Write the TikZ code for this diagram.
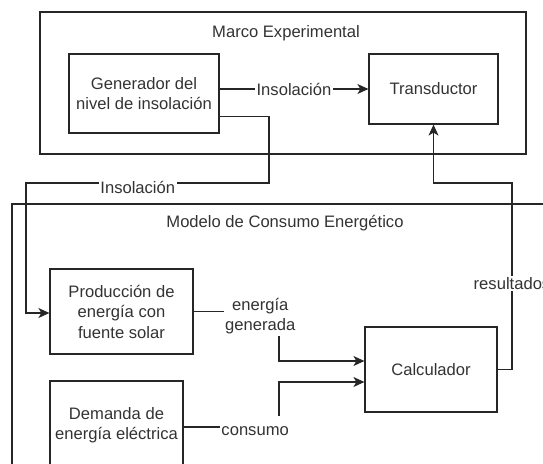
\documentclass[tikz,border=0pt]{standalone}
\usepackage{fontspec}
\setmainfont{Liberation Sans}
\usetikzlibrary{arrows.meta}

\begin{document}
\begin{tikzpicture}[x=1pt, y=-1pt,
  every node/.style={font=\fontsize{16.6}{20.5}\selectfont, text=black!80},
  block/.style={draw=black!85, line width=1.2pt, align=center, inner sep=0pt},
  lbl/.style={fill=white, inner sep=1.5pt, align=center},
  conn/.style={draw=black!85, line width=1.2pt, -{Stealth[length=11pt, width=10pt, inset=3pt]}}]
  \useasboundingbox (0,0) rectangle (543,463);
  \clip (0,0) rectangle (543,463);
  % experimental frame
  \node[block, minimum width=486pt, minimum height=142pt] (marco) at (283,83) {};
  \node (marcotit) at (286,33) {Marco Experimental};
  \node[block, minimum width=150pt, minimum height=79pt] (gen) at (144,93.5)
    {Generador del\\nivel de insolación};
  \node[block, minimum width=129pt, minimum height=70pt] (trans) at (433.5,89) {Transductor};
  % energy consumption model, cut by the page
  \node[block, minimum width=558pt, minimum height=286pt] (modelo) at (291,347) {};
  \node (modelotit) at (285,223) {Modelo de Consumo Energético};
  \node[block, minimum width=143pt, minimum height=85pt] (prod) at (121.5,311.5)
    {Producción de\\energía con\\fuente solar};
  \node[block, minimum width=133pt, minimum height=88pt] (dem) at (116.5,425)
    {Demanda de\\energía eléctrica};
  \node[block, minimum width=132pt, minimum height=85pt] (calc) at (431,369.5) {Calculador};
  % bends of the connectors
  \coordinate (gcorner) at (269,183);
  \coordinate (pcorner) at (26,183);
  \coordinate (gbend) at (279,361);
  \coordinate (cbend) at (279,382);
  \coordinate (rcorner) at (512,183);
  % connectors
  \draw[conn] (gen.east |- trans.west) -- node[lbl]{Insolación} (trans.west);
  \draw[conn] ([yshift=-23pt]gen.east) -| (gcorner)
    -- node[lbl, pos=0.54, yshift=-4pt]{Insolación} (pcorner) |- ([yshift=-1.5pt]prod.west);
  \draw[conn] (prod.east) -| node[lbl, pos=0.39, yshift=-4.5pt]{energía\\generada} (gbend)
    -- (gbend -| calc.west);
  \draw[conn] ([yshift=-2pt]dem.east) -| node[lbl, pos=0.375, yshift=-4pt, minimum height=30pt]{consumo} (cbend)
    -- (cbend -| calc.west);
  \draw[conn] (calc.east) -| node[lbl, pos=0.73]{resultados} (rcorner) -| (trans.south);
\end{tikzpicture}
\end{document}
